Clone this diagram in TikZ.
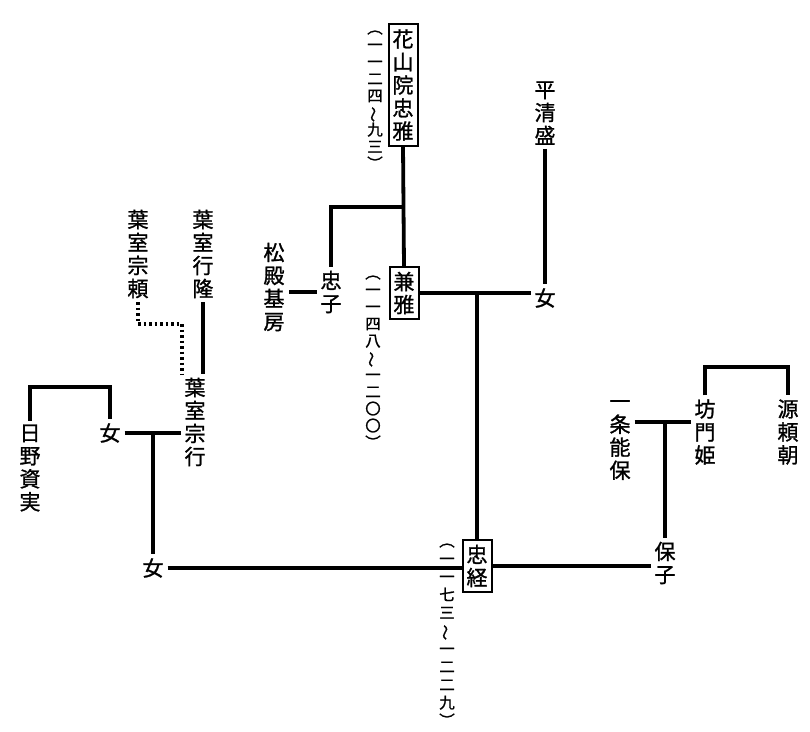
\documentclass[tikz,border=0pt]{standalone}
\usepackage{fontspec}
\usepackage{graphicx}
\newfontfamily\jp[FakeBold=1.2]{Noto Sans CJK JP}
\newcommand{\wv}{\rotatebox[origin=c]{90}{〜}}
\begin{document}
\begin{tikzpicture}[x=1pt,y=-1pt,
  pname/.style={font=\jp\fontsize{21}{23}\selectfont, align=center, inner sep=0pt, outer sep=4pt},
  yr/.style={font=\jp\fontsize{15.5}{17}\selectfont, align=center, inner sep=0pt},
  boxed/.style={pname, draw, line width=2pt, inner xsep=4pt, inner ysep=5pt, outer sep=0pt},
  ln/.style={line width=3.8pt},
  dotline/.style={line width=3.5pt, dash pattern=on 2.5pt off 3pt}]
\useasboundingbox (0,0) rectangle (810,731);

% main line
\node[boxed] (tadamasa) at (403,85) {花\\山\\院\\忠\\雅};
\node[yr] (tadamasaY) at (375,100) {︵\\一\\一\\二\\四\\\wv\\九\\三\\︶};
\node[boxed] (kanemasa) at (404,293) {兼\\雅};
\node[yr] (kanemasaY) at (373,362) {︵\\一\\一\\四\\八\\\wv\\一\\二\\〇\\〇\\︶};
\node[boxed] (tadatsune) at (477,566) {忠\\経};
\node[yr, font=\jp\fontsize{15.5}{18}\selectfont] (tadatsuneY) at (447,635) {︵\\一\\一\\七\\三\\\wv\\一\\二\\二\\九\\︶};

\node[pname] (tadako) at (331,292) {忠\\子};
\node[pname] (motofusa) at (274,287) {松\\殿\\基\\房};
\node[pname] (kiyomori) at (545,113) {平\\清\\盛};
\node[pname] (onnaA) at (545,298) {女};

\node[pname] (munetoshi) at (138,254) {葉\\室\\宗\\頼};
\node[pname] (yukitaka) at (203,254) {葉\\室\\行\\隆};
\node[pname] (muneyuki) at (195,422) {葉\\室\\宗\\行};
\node[pname] (sukezane) at (30,468) {日\\野\\資\\実};
\node[pname] (onnaB) at (110,433) {女};
\node[pname] (onnaC) at (153,568) {女};

\node[pname] (yoshiyasu) at (620,440) {一\\条\\能\\保};
\node[pname] (bomon) at (705,432) {坊\\門\\姫};
\node[pname] (yoritomo) at (788,432) {源\\頼\\朝};
\node[pname] (yasuko) at (665,563) {保\\子};

% connectors
\coordinate (j1) at (403,207);
\draw[ln] (tadamasa.south) -- (kanemasa.north);
\draw[ln] (j1) -| (tadako.north);
\draw[ln] (tadako.west) -- (tadako.west -| motofusa.east);
\draw[ln] (kanemasa.east) -- (kanemasa.east -| onnaA.west);
\draw[ln] (kiyomori.south) -- (onnaA.north);
\draw[ln] (kanemasa.east -| tadatsune.north) -- (tadatsune.north);

\draw[ln] (onnaC.east) -- (onnaC.east -| tadatsune.west);
\draw[ln] (tadatsune.east) -- (tadatsune.east -| yasuko.west);

\coordinate (j3) at (665,422);
\draw[ln] (j3 -| yoshiyasu.east) -- (j3 -| bomon.west);
\draw[ln] (j3) -- (yasuko.north);
\coordinate (b2) at (745,367);
\draw[ln] (bomon.north) |- (b2) -| (yoritomo.north);

\coordinate (b1) at (70,387);
\draw[ln] (sukezane.north) |- (b1) -| (onnaB.north);
\draw[ln] (onnaB.east) -- (onnaB.east -| muneyuki.west);
\draw[ln] (onnaB.east -| onnaC.north) -- (onnaC.north);
\draw[ln] (yukitaka.south) -- (yukitaka.south |- muneyuki.north);
\coordinate (d1) at (182,324);
\draw[dotline] (munetoshi.south) |- (d1) -- (d1 |- muneyuki.north);
\end{tikzpicture}
\end{document}
